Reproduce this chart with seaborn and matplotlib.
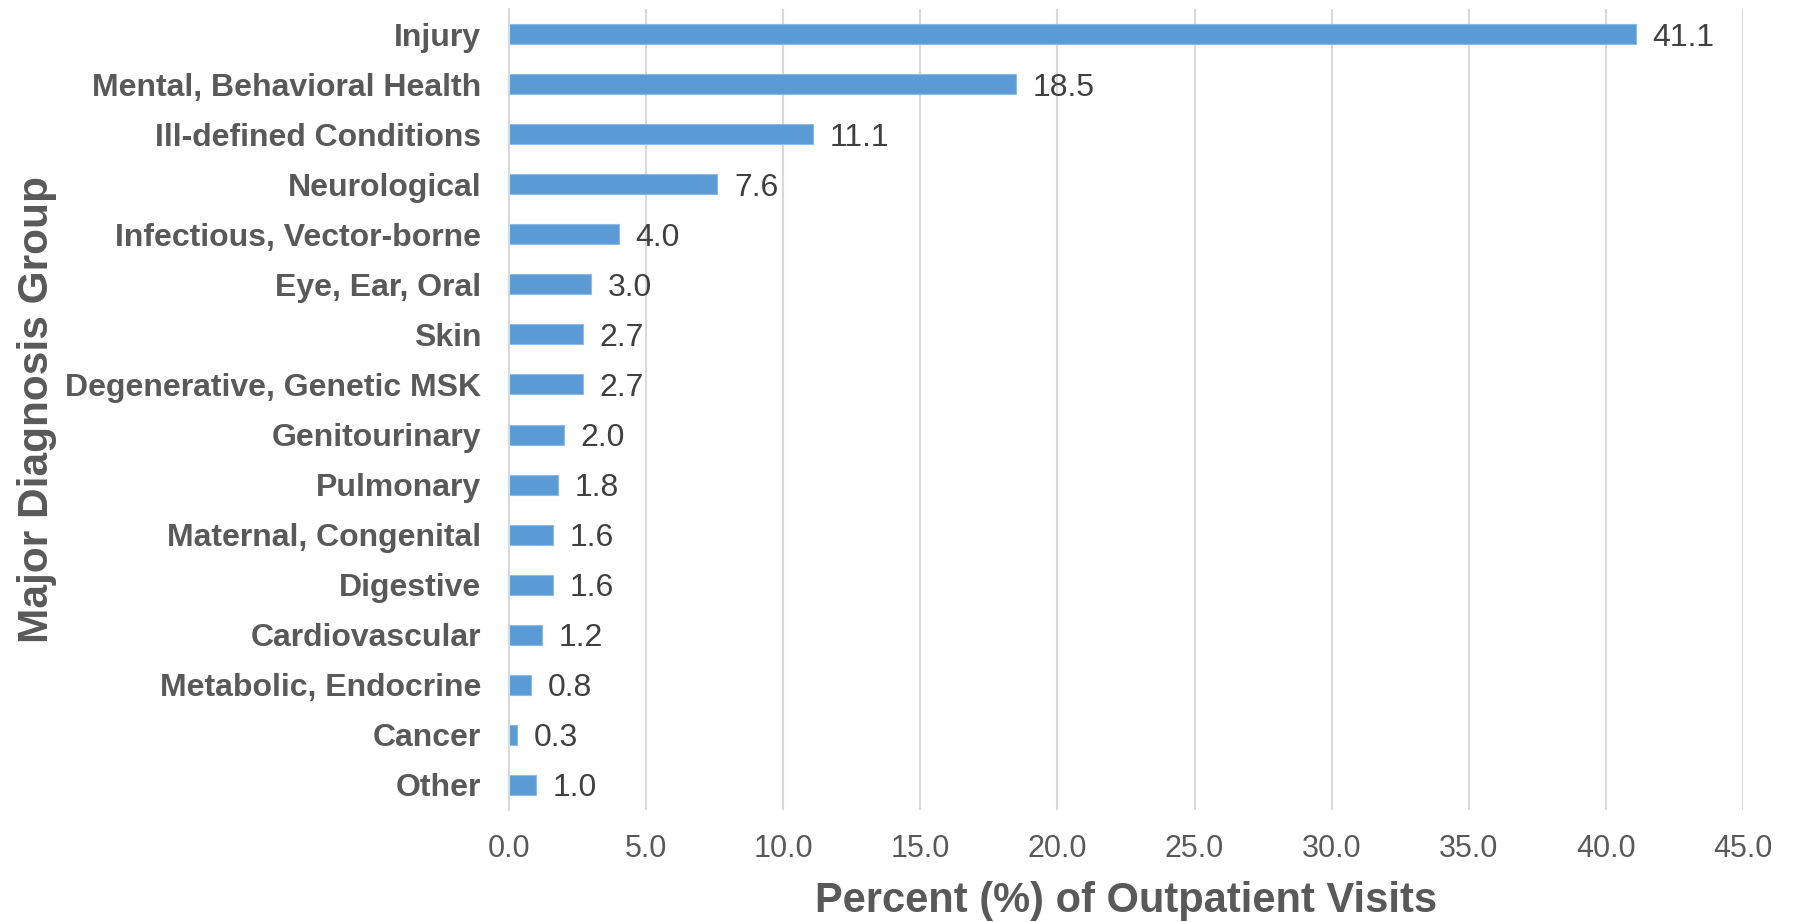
import matplotlib
matplotlib.use("Agg")
import matplotlib.pyplot as plt
import seaborn as sns
import pandas as pd

# Chart data
categories = [
    "Injury", "Mental, Behavioral Health", "Ill-defined Conditions", "Neurological",
    "Infectious, Vector-borne", "Eye, Ear, Oral", "Skin", "Degenerative, Genetic MSK",
    "Genitourinary", "Pulmonary", "Maternal, Congenital", "Digestive",
    "Cardiovascular", "Metabolic, Endocrine", "Cancer", "Other",
]
percents = [41.1, 18.5, 11.1, 7.6, 4.0, 3.0, 2.7, 2.7, 2.0, 1.8, 1.6, 1.6, 1.2, 0.8, 0.3, 1.0]
x_ticks = [0, 5, 10, 15, 20, 25, 30, 35, 40, 45]

sns.set_style("white")
plt.rcParams['font.family'] = ['Liberation Sans', 'DejaVu Sans']

df = pd.DataFrame({'group': categories, 'pct': percents})

fig = plt.figure(figsize=(17.93, 9.22), dpi=100)
ax = fig.add_axes([0.2839, 0.1215, 0.6882, 0.8687])

sns.barplot(data=df, x='pct', y='group', orient='h', color='#5B9BD5',
            saturation=1, width=0.4, ax=ax, edgecolor='#8DB9E6', linewidth=0.8)

# value labels next to each bar
value_labels = ax.bar_label(ax.containers[0], fmt='%.1f', padding=12, fontsize=23,
                            color='#404040')
for t in value_labels:
    t.set_va('center_baseline')

ax.set_xlim(0, 45)
ax.set_ylim(15.5, -0.5)
ax.set_xticks(x_ticks)
ax.set_xticklabels([f"{t:.1f}" for t in x_ticks])
ax.tick_params(axis='x', length=0, pad=17, labelsize=22, labelcolor='#595959')
ax.tick_params(axis='y', length=0, pad=20, labelsize=23, labelcolor='#595959')
for lbl in ax.get_yticklabels():
    lbl.set_fontweight('bold')

ax.xaxis.grid(True, color='#D9D9D9', linewidth=1.5)
ax.yaxis.grid(False)
ax.set_axisbelow(True)
for side in ['top', 'right', 'bottom']:
    ax.spines[side].set_visible(False)
ax.spines['left'].set_color('#D9D9D9')
ax.spines['left'].set_linewidth(1.5)

ax.set_xlabel('Percent (%) of Outpatient Visits', fontsize=30, fontweight='bold', color='#595959')
ax.set_ylabel('Major Diagnosis Group', fontsize=30.5, fontweight='bold', color='#595959')
ax.xaxis.set_label_coords(0.5, -0.089)
ax.yaxis.set_label_coords(-0.366, 0.5)

fig.savefig('out.png', dpi=100)
